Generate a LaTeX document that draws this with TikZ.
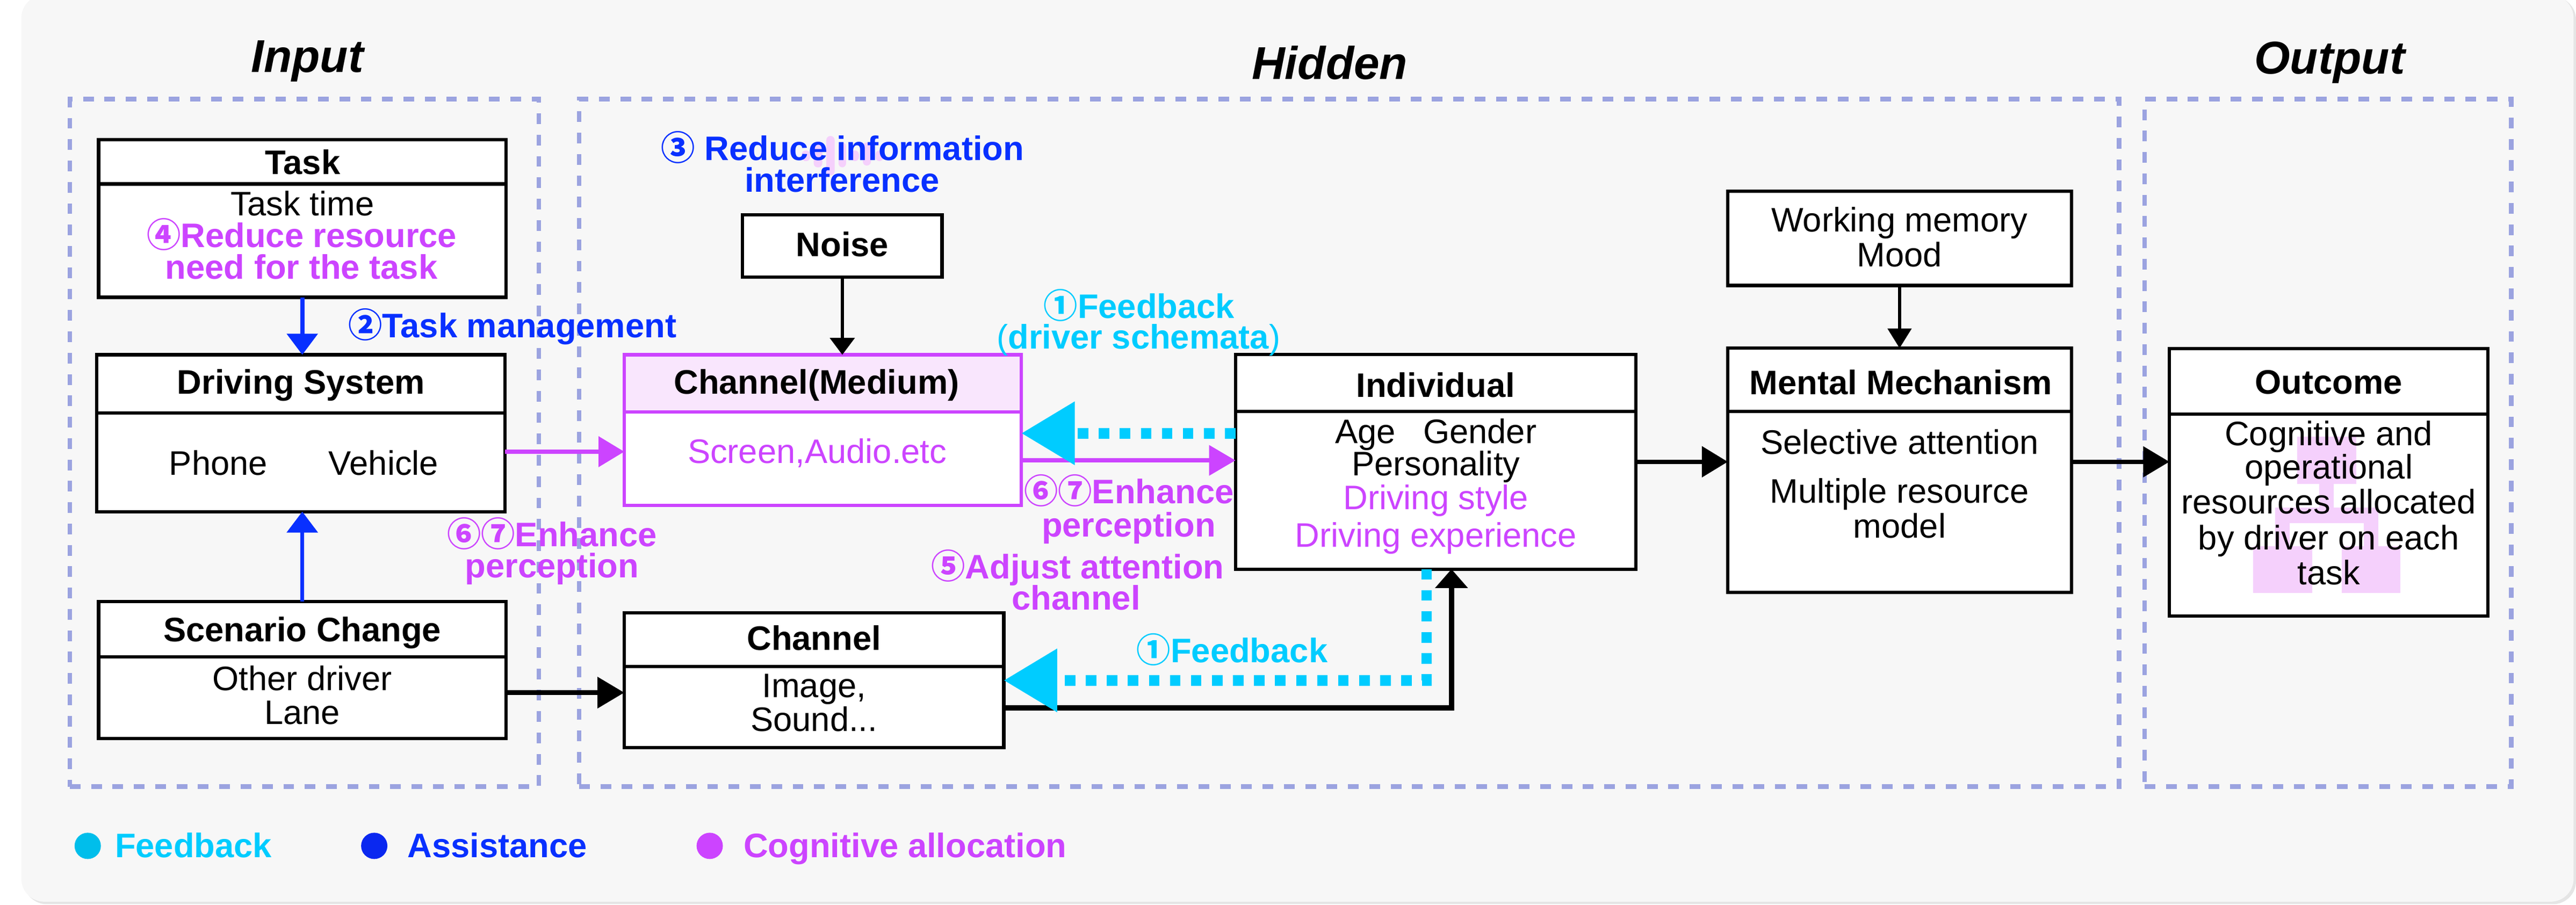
\documentclass[tikz,border=0pt]{standalone}
\usepackage{fontspec}
\setmainfont{Liberation Sans}
\newfontfamily\cjkfont{Noto Sans CJK SC}
\usetikzlibrary{arrows.meta}
\definecolor{cblue}{RGB}{8,48,255}
\definecolor{ccyan}{RGB}{0,204,255}
\definecolor{cmag}{RGB}{204,68,255}
\definecolor{cdash}{RGB}{155,163,224}
\definecolor{chead}{RGB}{249,230,253}
\definecolor{cpink}{RGB}{245,208,252}
\definecolor{cbg}{RGB}{247,247,247}
\definecolor{cdotcyan}{RGB}{0,190,235}
\definecolor{cdotblue}{RGB}{10,40,240}
\newcommand\cn[1]{{\cjkfont #1}}
\begin{document}
\begin{tikzpicture}[x=1pt,y=-1pt,
  every node/.style={inner sep=0pt,outer sep=0pt},
  box/.style={draw=black,line width=2pt,fill=white,rectangle},
  region/.style={draw=cdash,line width=2.9pt,dash pattern=on 6.5pt off 6.5pt,rectangle},
  divider/.style={line width=2pt},
  txt/.style={anchor=base,text height=15pt,text depth=3.5pt,font=\fontsize{20.7}{21}\selectfont},
  hdr/.style={anchor=base,text height=15pt,text depth=3.5pt,font=\fontsize{20.7}{21}\selectfont\bfseries},
  lbl/.style={anchor=base,text height=15pt,text depth=3.5pt,font=\fontsize{20.7}{21}\selectfont\bfseries},
  ttl/.style={anchor=base,font=\fontsize{28}{30}\selectfont\bfseries\itshape},
  feedbackline/.style={ccyan,line width=6.5pt,dash pattern=on 6.4pt off 6.4pt,-{Triangle[length=32.5pt,width=37pt]}},
  legenddot/.style={circle,minimum size=16pt},
]
\useasboundingbox (0,0) rectangle (1568,551);
\fill[white] (0,0) rectangle (1568,551);
\fill[black!10,rounded corners=14pt] (14.5,-2) rectangle (1568,550.5);
\fill[cbg,rounded corners=14pt] (13,-3) rectangle (1566.5,549);

% regions
\node[region,minimum width=285.5pt,minimum height=418.6pt] (rin) at (185.25,269.7) {};
\node[region,minimum width=937.5pt,minimum height=418.6pt] (rhid) at (821.25,269.7) {};
\node[region,minimum width=223.1pt,minimum height=418.6pt] (rout) at (1416.95,269.7) {};

% titles
\node[ttl] (tin) at (187,44.1) {Input};
\node[ttl] (thid) at (809.4,48.2) {Hidden};
\node[ttl] (tout) at (1418,45) {Output};

% boxes
\node[box,minimum width=248pt,minimum height=96pt] (task) at (184,133) {};
\draw[divider] (task.west |- 0,112) -- (task.east |- 0,112);
\node[box,minimum width=248.5pt,minimum height=95.5pt] (drv) at (183.2,263.75) {};
\draw[divider] (drv.west |- 0,251.5) -- (drv.east |- 0,251.5);
\node[box,minimum width=248pt,minimum height=83.2pt] (scen) at (184,407.9) {};
\draw[divider] (scen.west |- 0,400) -- (scen.east |- 0,400);

\node[box,draw=cmag,minimum width=241.7pt,minimum height=91.6pt] (chm) at (500.85,261.8) {};
\fill[chead] (chm.north west) rectangle (chm.east |- 0,250.7);
\draw[cmag,line width=2pt] (chm.north west) rectangle (chm.south east);
\draw[cmag,line width=2pt] (chm.west |- 0,250.7) -- (chm.east |- 0,250.7);

\node[box,minimum width=121.4pt,minimum height=37.9pt] (noise) at (512.7,149.65) {};
\node[box,minimum width=231pt,minimum height=82.1pt] (ch) at (495.5,414.25) {};
\draw[divider] (ch.west |- 0,405.7) -- (ch.east |- 0,405.7);
\node[box,minimum width=243.7pt,minimum height=130.7pt] (ind) at (873.85,281.15) {};
\draw[divider] (ind.west |- 0,250.6) -- (ind.east |- 0,250.6);
\node[box,minimum width=209.1pt,minimum height=57.3pt] (wm) at (1156.25,145.15) {};
\node[box,minimum width=209.1pt,minimum height=148.8pt] (mm) at (1156.25,286.4) {};
\draw[divider] (mm.west |- 0,250.6) -- (mm.east |- 0,250.6);
\node[box,minimum width=193.9pt,minimum height=162.7pt] (out) at (1417.45,293.65) {};
\draw[divider] (out.west |- 0,252) -- (out.east |- 0,252);

% decorations
\fill[cpink] (1398.3,266) rectangle (1434.3,294.5);
\fill[cpink] (1411.7,294.5) rectangle (1420.5,309);
\fill[cpink] (1384.7,309) rectangle (1447.5,318.5);
\fill[cpink] (1384.7,318.5) rectangle (1393.7,332.7);
\fill[cpink] (1438.9,318.5) rectangle (1447.5,332.7);
\fill[cpink] (1371.3,332.7) rectangle (1407.3,361);
\fill[cpink] (1425.3,332.7) rectangle (1461,361);
\begin{scope}[cpink,rounded corners=2.4pt]
\fill (488,91.6) rectangle (493.1,98.1);
\fill (495.3,86.1) rectangle (500.5,101.9);
\fill (503,82.8) rectangle (508,106.8);
\fill (510.4,86.7) rectangle (515,101.9);
\fill (518,91.6) rectangle (522.8,98.1);
\fill (525.2,86.7) rectangle (530.1,100.8);
\fill (532.9,91.6) rectangle (537.7,98.1);
\end{scope}

% box texts
\node[hdr] (t1) at (184.3,106.1) {Task};
\node[txt] (t2) at (184,131.4) {Task time};
\node[lbl,text=cmag] (t3) at (183.7,150.6) {\cn{④}Reduce resource};
\node[lbl,text=cmag] (t4) at (183.5,169.9) {need for the task};
\node[hdr] (d1) at (183.2,239.9) {Driving System};
\node[txt] (d2) at (132.9,289.1) {Phone};
\node[txt] (d3) at (233.5,289.1) {Vehicle};
\node[hdr] (s1) at (184,390.5) {Scenario Change};
\node[txt] (s2) at (184,420.4) {Other driver};
\node[txt] (s3) at (184,440.9) {Lane};
\node[hdr] (n1) at (512.7,156.1) {Noise};
\node[hdr] (m1) at (497,240) {Channel(Medium)};
\node[txt,text=cmag] (m2) at (497.4,282.2) {Screen,Audio.etc};
\node[hdr] (c1) at (495.5,395.8) {Channel};
\node[txt] (c2) at (495.5,424.5) {Image,};
\node[txt] (c3) at (495.5,445.3) {Sound...};
\node[hdr] (i1) at (873.85,241.9) {Individual};
\node[txt] (i2) at (874,270.1) {Age\hspace{16.8pt}Gender};
\node[txt] (i3) at (874,289.7) {Personality};
\node[txt,text=cmag] (i4) at (874,310.3) {Driving style};
\node[txt,text=cmag] (i5) at (874,333.2) {Driving experience};
\node[txt] (w1) at (1156.25,141) {Working memory};
\node[txt] (w2) at (1156.25,162.3) {Mood};
\node[hdr] (mm1) at (1157,240.3) {Mental Mechanism};
\node[txt] (mm2) at (1156.25,276.6) {Selective attention};
\node[txt] (mm3) at (1156.25,306.4) {Multiple resource};
\node[txt] (mm4) at (1156.25,327.5) {model};
\node[hdr] (o1) at (1417.45,240) {Outcome};
\node[txt] (o2) at (1417.45,271.3) {Cognitive and};
\node[txt] (o3) at (1417.45,291.6) {operational};
\node[txt] (o4) at (1417.45,312.8) {resources allocated};
\node[txt] (o5) at (1417.45,334.6) {by driver on each};
\node[txt] (o6) at (1417.45,355.9) {task};

% labels
\node[lbl,text=cblue] (l3a) at (512.9,97.5) {\cn{③} Reduce information};
\node[lbl,text=cblue] (l3b) at (512.6,116.9) {interference};
\node[lbl,text=cblue,anchor=base west] (l2) at (212,205.6) {\cn{②}Task management};
\node[lbl,text=ccyan] (l1a) at (693.4,193.6) {\cn{①}Feedback};
\node[lbl,text=ccyan] (l1b) at (693,212.4) {{\mdseries(}driver schemata{\mdseries)}};
\node[lbl,text=cmag] (l6a) at (687.2,306.6) {\cn{⑥⑦}Enhance};
\node[lbl,text=cmag] (l6b) at (687,326.9) {perception};
\node[lbl,text=cmag] (l5a) at (656,352.4) {\cn{⑤}Adjust attention};
\node[lbl,text=cmag] (l5b) at (655,371.3) {channel};
\node[lbl,text=cmag] (l7a) at (336,332.8) {\cn{⑥⑦}Enhance};
\node[lbl,text=cmag] (l7b) at (336,351.6) {perception};
\node[lbl,text=ccyan] (l1c) at (750,403.2) {\cn{①}Feedback};

% legend
\node[legenddot,fill=cdotcyan] (g1) at (53.4,515) {};
\node[lbl,text=ccyan,anchor=base west] (g1t) at (70,521.9) {Feedback};
\node[legenddot,fill=cdotblue] (g2) at (227.8,515) {};
\node[lbl,text=cblue,anchor=base west] (g2t) at (248,521.9) {Assistance};
\node[legenddot,fill=cmag] (g3) at (432,515) {};
\node[lbl,text=cmag,anchor=base west] (g3t) at (452.6,521.9) {Cognitive allocation};

% connectors
\draw[cblue,line width=2.7pt,-{Triangle[length=12.8pt,width=18.4pt]}] (task.south) -- (task.south |- drv.north);
\draw[cblue,line width=2.3pt,-{Triangle[length=12.8pt,width=18.7pt]}] (scen.north) -- (scen.north |- drv.south);
\draw[cmag,line width=2.6pt,-{Triangle[length=15.7pt,width=18.2pt]}] ([yshift=-11.25pt]drv.east) -- ([yshift=-11.25pt]drv.east -| chm.west);
\draw[black,line width=2pt,-{Triangle[length=10.3pt,width=14.9pt]}] (noise.south) -- (noise.south |- chm.north);
\draw[cmag,line width=2.6pt,-{Triangle[length=16pt,width=18pt]}] ([yshift=-18.5pt]chm.east) -- ([yshift=-18.5pt]chm.east -| ind.west);
\draw[feedbackline] ([yshift=17.35pt]ind.west) -- ([yshift=17.35pt]ind.west -| chm.east);
\draw[black,line width=2.9pt,-{Triangle[length=16.3pt,width=18.5pt]}] ([yshift=-13.8pt]scen.east) -- ([yshift=-13.8pt]scen.east -| ch.west);
\draw[black,line width=3.2pt,-{Triangle[length=11.5pt,width=19.3pt]}] ([yshift=-16.85pt]ch.east) -| ([xshift=9.65pt]ind.south);
\draw[feedbackline] ([xshift=-5.5pt]ind.south) |- (ch.east);
\draw[black,line width=2.75pt,-{Triangle[length=15.8pt,width=18.4pt]}] (ind.east) -- (ind.east -| mm.west);
\draw[black,line width=2.75pt,-{Triangle[length=16pt,width=18.3pt]}] (ind.east -| mm.east) -- (ind.east -| out.west);
\draw[black,line width=2pt,-{Triangle[length=12pt,width=14.3pt]}] (wm.south) -- (mm.north);
\end{tikzpicture}
\end{document}
